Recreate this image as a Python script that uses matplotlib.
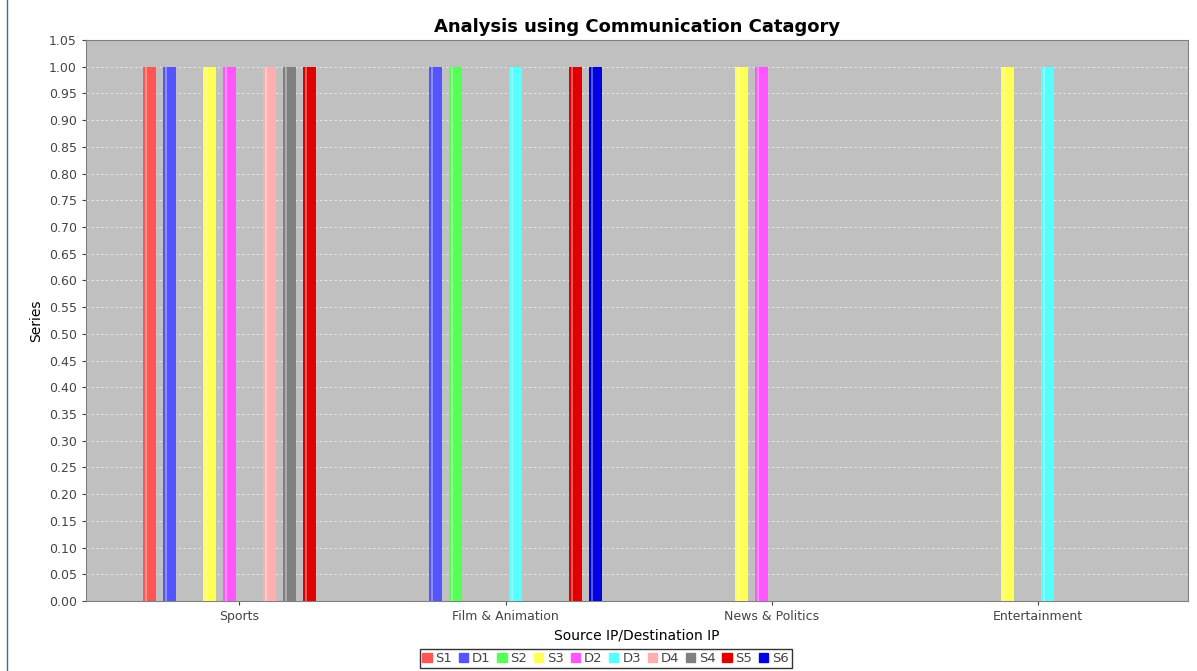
import numpy as np
import matplotlib.pyplot as plt
from matplotlib.lines import Line2D

categories = ['Sports', 'Film & Animation', 'News & Politics', 'Entertainment']
series = ['S1', 'D1', 'S2', 'S3', 'D2', 'D3', 'D4', 'S4', 'S5', 'S6']
colors = ['#ff5555', '#5555ff', '#55ff55', '#ffff55', '#ff55ff',
          '#55ffff', '#ffafaf', '#808080', '#e00000', '#0000e0']

# one row per series, one value per category
S1 = [1, 0, 0, 0]
D1 = [1, 1, 0, 0]
S2 = [0, 1, 0, 0]
S3 = [1, 0, 1, 1]
D2 = [1, 0, 1, 0]
D3 = [0, 1, 0, 1]
D4 = [1, 0, 0, 0]
S4 = [1, 0, 0, 0]
S5 = [1, 1, 0, 0]
S6 = [0, 1, 0, 0]
values = [S1, D1, S2, S3, D2, D3, D4, S4, S5, S6]

fig = plt.figure(figsize=(11.97, 6.71), dpi=100)
ax = fig.add_axes([0.0718, 0.1043, 0.9207, 0.8361])
ax.set_facecolor('#c0c0c0')

x = np.arange(len(categories))
slot = 0.0752
w = 0.049
for i, (name, vals) in enumerate(zip(series, values)):
    pos = x + (i - 4.5) * slot
    v = np.array(vals, dtype=float)
    ax.bar(pos, v, w, color=colors[i], zorder=3, label=name)
    # light stripe near the left edge, like the gradient in the original
    ax.bar(pos - w * 0.28, v, w * 0.12, color='white', alpha=0.35,
           zorder=4, linewidth=0)

ax.set_xlim(-0.577, 3.565)
ax.set_ylim(0, 1.05)
ax.set_yticks(np.arange(0, 1.0501, 0.05))
ax.set_yticklabels(['%.2f' % t for t in np.arange(0, 1.0501, 0.05)])
ax.set_xticks(x)
ax.set_xticklabels(categories)
ax.tick_params(labelsize=9, colors='#444444', length=3)
ax.yaxis.grid(True, color='#e8e8e8', linestyle=(0, (2.5, 2.5)), linewidth=0.7, zorder=0)
for s in ax.spines.values():
    s.set_color('#808080')

ax.set_title('Analysis using Communication Catagory', fontsize=13,
             fontweight='heavy', pad=6)
ax.set_ylabel('Series', fontsize=10)
ax.set_xlabel('Source IP/Destination IP', fontsize=10)

handles = [plt.Rectangle((0, 0), 1, 1, color=c) for c in colors]
leg = fig.legend(handles, series, loc='lower center', ncol=len(series),
                 bbox_to_anchor=(0.506, -0.005), fontsize=9.5, frameon=True,
                 fancybox=False, handlelength=0.7, handleheight=0.7,
                 handletextpad=0.3, columnspacing=0.5, borderpad=0.2)
leg.get_frame().set_edgecolor('black')
for t in leg.get_texts():
    t.set_color('#444444')

fig.add_artist(Line2D([0.006, 0.006], [0, 1], color='#4a6a8a', linewidth=1))

plt.savefig('out.png', dpi=100)
